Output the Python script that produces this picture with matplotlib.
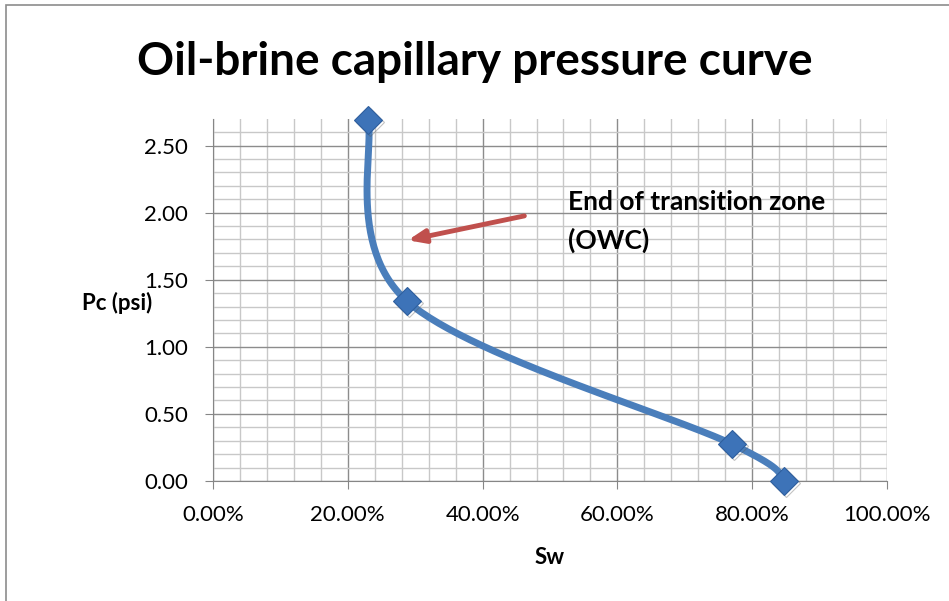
import numpy as np
import matplotlib
matplotlib.use('Agg')
from matplotlib import pyplot as plt
from matplotlib import patheffects as pe
from matplotlib.patches import Rectangle
from matplotlib.ticker import MultipleLocator, FuncFormatter

sw = [0.23, 0.288, 0.77, 0.847]
pc = [2.69, 1.34, 0.275, 0.0]

title = 'Oil-brine capillary pressure curve'
note = 'End of transition zone\n(OWC)'

plt.rcParams['font.family'] = ['Lato', 'DejaVu Sans']


def smooth(x, y, n=60):
    # excel style smoothing (catmull-rom -> bezier)
    p = np.column_stack([x, y])
    pts = np.vstack([p[0], p, p[-1]])
    out = []
    t = np.linspace(0, 1, n)[:, None]
    for i in range(1, len(pts) - 2):
        p0, p1, p2, p3 = pts[i - 1], pts[i], pts[i + 1], pts[i + 2]
        c1 = p1 + (p2 - p0) / 6
        c2 = p2 - (p3 - p1) / 6
        seg = ((1 - t) ** 3) * p1 + 3 * ((1 - t) ** 2) * t * c1 + 3 * (1 - t) * t ** 2 * c2 + t ** 3 * p2
        out.append(seg)
    s = np.vstack(out)
    return s[:, 0], s[:, 1]


fig = plt.figure(figsize=(9.49, 6.01), dpi=100)
fig.patches.append(Rectangle((6 / 949, -0.1), 1.2, (601 - 5) / 601 + 0.1, transform=fig.transFigure,
                             fill=False, edgecolor='#8C8C8C', linewidth=1.2))
ax = fig.add_axes([213 / 949, (601 - 481) / 601, 674 / 949, 362 / 601])

ax.set_xlim(0, 1)
ax.set_ylim(0, 2.698)
ax.xaxis.set_major_locator(MultipleLocator(0.2))
ax.xaxis.set_minor_locator(MultipleLocator(0.04))
ax.yaxis.set_major_locator(MultipleLocator(0.5))
ax.yaxis.set_minor_locator(MultipleLocator(0.1))
ax.xaxis.set_major_formatter(FuncFormatter(lambda v, p: f'{v * 100:.2f}%'))
ax.yaxis.set_major_formatter(FuncFormatter(lambda v, p: f'{v:.2f}'))
ax.grid(True, which='minor', color='#C8C8C8', linewidth=1.0)
ax.grid(True, which='major', color='#8C8C8C', linewidth=1.0)
ax.set_axisbelow(True)
for s in ['top', 'right']:
    ax.spines[s].set_visible(False)
for s in ['left', 'bottom']:
    ax.spines[s].set_color('#868686')
ax.tick_params(which='major', length=6, color='#868686', labelsize=16)
ax.tick_params(axis='y', pad=12)
ax.tick_params(axis='x', pad=11)
ax.tick_params(which='minor', length=0)

shadow = [pe.SimpleLineShadow(offset=(1.5, -1.5), shadow_color='#555555', alpha=0.35), pe.Normal()]
xs, ys = smooth(sw, pc)
ax.plot(xs, ys, color='#4A7EBB', linewidth=5, solid_capstyle='round', clip_on=False, zorder=3)
ax.plot(sw, pc, linestyle='none', marker='D', markersize=14, color='#3D73B8',
        markeredgecolor='#2F5F9E', markeredgewidth=0.8, clip_on=False, zorder=4, path_effects=shadow)

ax.annotate('', xy=(0.285, 1.79), xytext=(0.466, 1.98),
            arrowprops=dict(arrowstyle='-|>,head_length=1.0,head_width=0.4', color='#C0504D', lw=3.5))
ax.text(0.527, 1.935, note, fontsize=19, fontweight='bold', va='center', ha='left', linespacing=1.62)

fig.text(475 / 949, 1 - 62 / 601, title, fontsize=33, fontweight='bold', ha='center', va='center')
ax.set_xlabel('Sw', fontsize=16, fontweight='bold', va='top')
ax.xaxis.set_label_coords(0.5, -0.182)
ax.set_ylabel('Pc (psi)', fontsize=16, fontweight='bold', rotation=0, va='center', ha='center')
ax.yaxis.set_label_coords(-0.142, 0.492)

fig.savefig('out.png', dpi=100)
